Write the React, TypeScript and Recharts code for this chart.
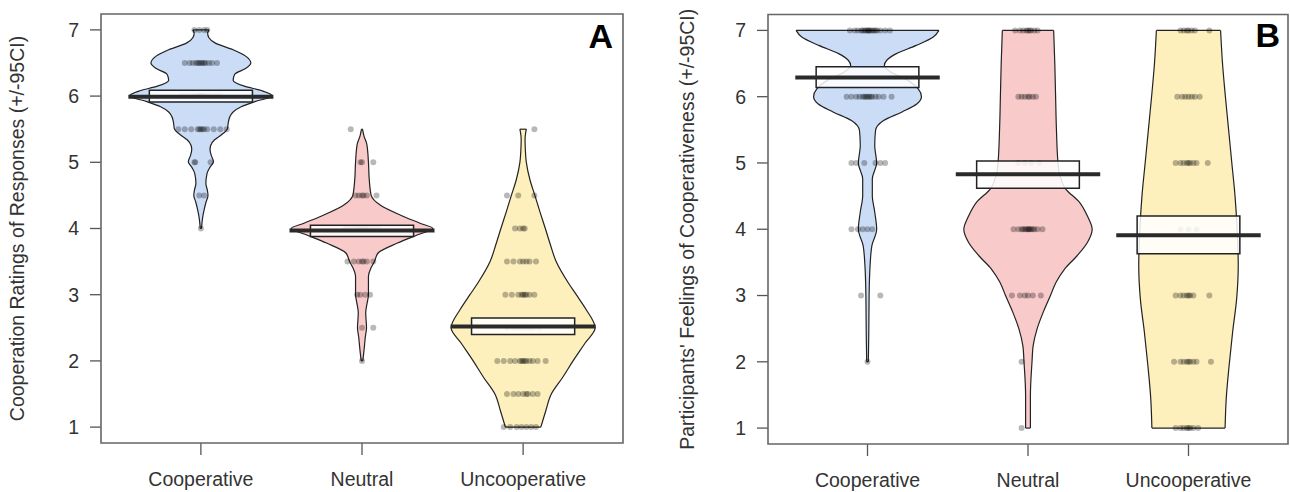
import React from 'react';
import { ComposedChart, Area, Scatter, XAxis, YAxis, ReferenceArea, ReferenceLine } from 'recharts';

// ---------- shared ----------
const categories = ['Cooperative', 'Neutral', 'Uncooperative'];
const categoryPositions = [1, 2, 3];
const yTicks = [1, 2, 3, 4, 5, 6, 7];
const beanFills = ['#cadcf6', '#f8caca', '#fdf0bd'];

type Pair = [number, number];
type Level = [number, number[]];

// ---------- Panel A: violin half-widths [rating, half width] ----------
const violinACoop: Pair[] = [
  [7.0, 0.05], [6.95, 0.042], [6.88, 0.05], [6.8, 0.09], [6.7, 0.2], [6.6, 0.28], [6.5, 0.31], [6.42, 0.28],
  [6.33, 0.21], [6.24, 0.2], [6.15, 0.27], [6.08, 0.38], [6.0, 0.445], [5.92, 0.34], [5.84, 0.25], [5.76, 0.2],
  [5.69, 0.18], [5.6, 0.17], [5.51, 0.165], [5.42, 0.13], [5.34, 0.085], [5.25, 0.06], [5.19, 0.057], [5.1, 0.065],
  [5.01, 0.078], [4.92, 0.055], [4.83, 0.038], [4.68, 0.031], [4.58, 0.04], [4.5, 0.044], [4.4, 0.032],
  [4.28, 0.02], [4.15, 0.01], [4.0, 0.004],
];
const violinANeutral: Pair[] = [
  [5.5, 0.003], [5.4, 0.012], [5.27, 0.03], [5.0, 0.04], [4.74, 0.045], [4.5, 0.057], [4.35, 0.115], [4.2, 0.24],
  [4.08, 0.36], [4.0, 0.44], [3.91, 0.35], [3.78, 0.22], [3.63, 0.1], [3.5, 0.077], [3.4, 0.055], [3.28, 0.04],
  [3.0, 0.04], [2.85, 0.03], [2.73, 0.023], [2.5, 0.028], [2.35, 0.02], [2.22, 0.015], [2.0, 0.005],
];
const violinAUncoop: Pair[] = [
  [5.5, 0.02], [5.35, 0.012], [5.24, 0.013], [5.0, 0.02], [4.74, 0.042], [4.5, 0.073], [4.24, 0.106], [4.0, 0.138],
  [3.75, 0.17], [3.5, 0.205], [3.18, 0.28], [3.0, 0.33], [2.78, 0.39], [2.5, 0.447], [2.27, 0.385], [2.0, 0.31],
  [1.75, 0.245], [1.5, 0.175], [1.24, 0.14], [1.0, 0.11],
];
const meansA = [5.99, 3.97, 2.52];
const ciLowA = [5.91, 3.88, 2.4];
const ciHighA = [6.09, 4.05, 2.65];

// jittered raw responses: [rating, horizontal offsets]
const pointsACoop: Level[] = [
  [7, [-0.04, -0.01, 0.02, 0.04]],
  [6.5, [-0.1, -0.07, -0.05, -0.03, -0.02, -0.01, 0, 0.01, 0.02, 0.03, 0.05, 0.07, 0.1]],
  [6, [-0.12, -0.09, -0.06, -0.04, -0.02, -0.01, 0, 0.01, 0.02, 0.04, 0.06, 0.09, 0.12]],
  [5.5, [-0.14, -0.1, -0.06, -0.02, -0.01, 0, 0.01, 0.02, 0.04, 0.08, 0.12, 0.16]],
  [5, [-0.04, -0.035, 0.06]],
  [4.5, [-0.01, 0.02]],
  [4, [0]],
];
const pointsANeutral: Level[] = [
  [5.5, [-0.07]],
  [5, [-0.01, 0, 0.07]],
  [4.5, [-0.04, -0.02, 0, 0.01, 0.03, 0.09]],
  [4, [-0.1, -0.07, -0.04, -0.02, 0, 0.02, 0.04, 0.07, 0.1]],
  [3.5, [-0.09, -0.05, -0.02, 0, 0.01, 0.03, 0.07]],
  [3, [-0.03, -0.01, 0.02, 0.05]],
  [2.5, [0, 0.07]],
  [2, [0]],
];
const pointsAUncoop: Level[] = [
  [5.5, [0.07]],
  [4.5, [-0.1, -0.03, 0.07]],
  [4, [-0.05, -0.02, 0, 0.01]],
  [3.5, [-0.1, -0.06, -0.02, 0, 0.02, 0.04, 0.08]],
  [3, [-0.11, -0.07, -0.03, -0.01, 0, 0.01, 0.02, 0.04, 0.07]],
  [2.5, [-0.1, -0.06, -0.03, 0, 0.03, 0.06, 0.1]],
  [2, [-0.16, -0.12, -0.08, -0.05, -0.02, -0.01, 0, 0.01, 0.02, 0.04, 0.06, 0.09, 0.14]],
  [1.5, [-0.1, -0.06, -0.03, 0, 0.02, 0.03, 0.06, 0.09]],
  [1, [-0.12, -0.08, -0.04, -0.01, 0.02, 0.05, 0.08]],
];

// ---------- Panel B ----------
const violinBCoop: Pair[] = [
  [7.0, 0.445], [6.9, 0.41], [6.77, 0.3], [6.65, 0.18], [6.55, 0.12], [6.47, 0.105], [6.38, 0.14], [6.25, 0.25],
  [6.12, 0.315], [6.0, 0.336], [5.89, 0.307], [5.77, 0.215], [5.64, 0.1], [5.49, 0.05], [5.26, 0.045], [5.0, 0.057],
  [4.76, 0.03], [4.51, 0.03], [4.26, 0.045], [4.0, 0.057], [3.75, 0.027], [3.45, 0.016], [3.0, 0.01], [2.45, 0.008],
  [2.0, 0.005],
];
const violinBNeutral: Pair[] = [
  [7.0, 0.16], [6.5, 0.167], [6.0, 0.172], [5.52, 0.177], [5.0, 0.187], [4.8, 0.2], [4.61, 0.234], [4.41, 0.32],
  [4.2, 0.37], [4.0, 0.4], [3.8, 0.37], [3.6, 0.306], [3.4, 0.228], [3.2, 0.175], [3.0, 0.14], [2.75, 0.095],
  [2.5, 0.057], [2.24, 0.032], [2.0, 0.025], [1.49, 0.015], [1.0, 0.015],
];
const violinBUncoop: Pair[] = [
  [7.0, 0.2], [6.5, 0.212], [6.0, 0.23], [5.5, 0.25], [5.0, 0.27], [4.5, 0.29], [4.0, 0.303], [3.45, 0.31],
  [2.95, 0.3], [2.45, 0.275], [1.94, 0.253], [1.44, 0.235], [1.0, 0.228],
];
const meansB = [6.29, 4.83, 3.91];
const ciLowB = [6.14, 4.62, 3.63];
const ciHighB = [6.45, 5.03, 4.2];

const pointsBCoop: Level[] = [
  [7, [-0.11, -0.08, -0.06, -0.04, -0.03, -0.02, -0.01, 0, 0.005, 0.01, 0.02, 0.03, 0.04, 0.05, 0.06, 0.08, 0.11, 0.14]],
  [6, [-0.13, -0.1, -0.07, -0.05, -0.03, -0.02, -0.01, 0, 0.01, 0.02, 0.03, 0.05, 0.07, 0.1, 0.15]],
  [5, [-0.1, -0.07, -0.02, 0.05, 0.08, 0.11]],
  [4, [-0.1, -0.06, -0.03, 0, 0.03]],
  [3, [-0.04, 0.08]],
  [2, [0]],
];
const pointsBNeutral: Level[] = [
  [7, [-0.08, -0.05, -0.03, -0.01, 0, 0.01, 0.02, 0.04, 0.06]],
  [6, [-0.06, -0.04, -0.02, 0, 0.01, 0.03, 0.05]],
  [5, [-0.06, -0.02, 0.02, 0.07]],
  [4, [-0.09, -0.06, -0.04, -0.03, -0.02, -0.01, 0, 0.005, 0.01, 0.02, 0.03, 0.04, 0.06, 0.09]],
  [3, [-0.1, -0.05, -0.02, 0, 0.03, 0.08]],
  [2, [-0.04]],
  [1, [-0.04]],
];
const pointsBUncoop: Level[] = [
  [7, [-0.05, -0.03, -0.01, 0, 0.02, 0.04, 0.13]],
  [6, [-0.07, -0.04, -0.02, 0, 0.02, 0.04, 0.07]],
  [5, [-0.08, -0.05, -0.03, -0.01, 0, 0.01, 0.03, 0.05, 0.12]],
  [4, [-0.05, 0, 0.05]],
  [3, [-0.08, -0.05, -0.03, -0.01, 0, 0.01, 0.03, 0.13]],
  [2, [-0.09, -0.05, -0.03, -0.01, 0, 0.01, 0.03, 0.05, 0.14]],
  [1, [-0.08, -0.05, -0.03, -0.01, 0, 0.01, 0.03, 0.06]],
];

const titleA = 'Cooperation Ratings of Responses (+/-95CI)';
const titleB = "Participants' Feelings of Cooperativeness (+/-95CI)";

// ---------- drawing ----------
const X_DOMAIN: [number, number] = [0.38, 3.62];
const Y_DOMAIN: [number, number] = [0.76, 7.24];
const FONT = 19.5;

const Dot = (p: any) => <circle cx={p.cx} cy={p.cy} r={3} fill="#000" fillOpacity={0.28} />;

interface PanelProps {
  width: number;
  top: number;
  right: number;
  yAxisWidth: number;
  xAxisHeight: number;
  titleOffset: number;
  title: string;
  letter: string;
  letterOffset: number;
  violins: Pair[][];
  means: number[];
  ciLow: number[];
  ciHigh: number[];
  points: Level[][];
}

function Panel(props: PanelProps) {
  const { width, top, right, yAxisWidth, xAxisHeight, titleOffset, title, letter, letterOffset,
    violins, means, ciLow, ciHigh, points } = props;

  const beanData = violins.map((v, i) =>
    v.slice().sort((a, b) => a[0] - b[0]).map(([y, w]) => ({
      y,
      range: [categoryPositions[i] - w, categoryPositions[i] + w],
    }))
  );
  const dotData = points.flatMap((levels, i) =>
    levels.flatMap(([y, offs]) => offs.map((o) => ({ x: categoryPositions[i] + o, y })))
  );

  return (
    <ComposedChart
      width={width}
      height={492}
      layout="vertical"
      margin={{ top, right, bottom: 0, left: 0 }}
    >
      <XAxis
        type="number"
        dataKey="x"
        domain={X_DOMAIN}
        allowDataOverflow
        ticks={categoryPositions}
        interval={0}
        tickFormatter={(v: number) => categories[categoryPositions.indexOf(v)] ?? ''}
        height={xAxisHeight}
        tickSize={12}
        tickMargin={17}
        axisLine={false}
        tickLine={{ stroke: '#555', strokeWidth: 1.3 }}
        tick={{ fill: '#333', fontSize: FONT }}
      />
      <YAxis
        type="number"
        dataKey="y"
        domain={Y_DOMAIN}
        allowDataOverflow
        reversed
        ticks={yTicks}
        interval={0}
        width={yAxisWidth}
        tickSize={11}
        tickMargin={11}
        axisLine={false}
        tickLine={{ stroke: '#555', strokeWidth: 1.3 }}
        tick={{ fill: '#333', fontSize: FONT }}
        label={{
          value: title,
          angle: -90,
          position: 'insideLeft',
          offset: titleOffset,
          fill: '#333',
          fontSize: FONT,
          style: { textAnchor: 'middle' },
        }}
      />
      {beanData.map((d, i) => (
        <Area
          key={'bean' + i}
          data={d}
          dataKey="range"
          type="monotone"
          fill={beanFills[i]}
          fillOpacity={1}
          stroke="#222"
          strokeWidth={1.2}
          dot={false}
          activeDot={false}
          isAnimationActive={false}
        />
      ))}
      {beanData.map((d, i) => [d[0], d[d.length - 1]].map((e, j) => (
        <ReferenceLine
          key={'end' + i + '-' + j}
          segment={[{ x: e.range[0], y: e.y }, { x: e.range[1], y: e.y }]}
          stroke="#222"
          strokeWidth={1.2}
          zIndex={150}
        />
      )))}
      <Scatter data={dotData} shape={Dot} isAnimationActive={false} />
      {means.map((m, i) => (
        <ReferenceArea
          key={'ci' + i}
          x1={categoryPositions[i] - 0.32}
          x2={categoryPositions[i] + 0.32}
          y1={ciLow[i]}
          y2={ciHigh[i]}
          fill="#fff"
          fillOpacity={0.85}
          stroke="#222"
          strokeWidth={1.5}
          zIndex={700}
        />
      ))}
      {means.map((m, i) => (
        <ReferenceLine
          key={'mean' + i}
          segment={[{ x: categoryPositions[i] - 0.45, y: m }, { x: categoryPositions[i] + 0.45, y: m }]}
          stroke="#2a2a2a"
          strokeWidth={4}
          zIndex={800}
        />
      ))}
      <ReferenceArea
        x1={X_DOMAIN[0]}
        x2={X_DOMAIN[1]}
        y1={Y_DOMAIN[0]}
        y2={Y_DOMAIN[1]}
        fill="none"
        stroke="#666"
        strokeWidth={1.6}
        zIndex={900}
        label={{ value: letter, position: 'insideTopRight', offset: letterOffset, fontSize: 34, fontWeight: 700, fill: '#000' }}
      />
    </ComposedChart>
  );
}

export default function App() {
  return (
    <div
      style={{
        position: 'absolute',
        left: 0,
        top: 0,
        width: 1290,
        height: 492,
        background: '#fff',
        fontFamily: '"Liberation Sans", Arial, sans-serif',
      }}
    >
      <div style={{ position: 'absolute', left: 0, top: 0 }}>
        <Panel
          width={650}
          top={14}
          right={27}
          yAxisWidth={101}
          xAxisHeight={49}
          titleOffset={17}
          title={titleA}
          letter="A"
          letterOffset={10}
          violins={[violinACoop, violinANeutral, violinAUncoop]}
          means={meansA}
          ciLow={ciLowA}
          ciHigh={ciHighA}
          points={[pointsACoop, pointsANeutral, pointsAUncoop]}
        />
      </div>
      <div style={{ position: 'absolute', left: 650, top: 0 }}>
        <Panel
          width={640}
          top={14.5}
          right={2}
          yAxisWidth={118}
          xAxisHeight={48}
          titleOffset={37}
          title={titleB}
          letter="B"
          letterOffset={8}
          violins={[violinBCoop, violinBNeutral, violinBUncoop]}
          means={meansB}
          ciLow={ciLowB}
          ciHigh={ciHighB}
          points={[pointsBCoop, pointsBNeutral, pointsBUncoop]}
        />
      </div>
    </div>
  );
}
